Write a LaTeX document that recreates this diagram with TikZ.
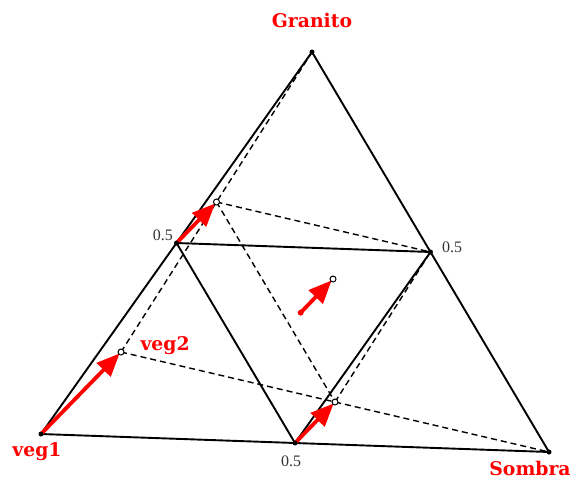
\documentclass[tikz,border=0pt]{standalone}
\usepackage{fontspec}
\setmainfont{Liberation Serif}
\newfontfamily\labelfont{DejaVu Serif}
\usetikzlibrary{positioning,arrows.meta,calc}

\begin{document}
\begin{tikzpicture}[x=1pt, y=-1pt, node distance=2pt,
  edge/.style={line width=1.9pt, line join=round},
  guide/.style={line width=1.4pt, dash pattern=on 6pt off 4pt},
  move/.style={red, line width=3.8pt, line cap=round, shorten >=2pt, -{Triangle[length=23pt,width=19pt]}},
  vtx/.style={circle, fill, inner sep=0pt, minimum size=5pt},
  hollow/.style={circle, draw, fill=white, inner sep=0pt, minimum size=6pt, line width=1pt},
  lbl/.style={red, font=\labelfont\bfseries\fontsize{18.8}{18.8}\selectfont},
  half/.style={font=\fontsize{16}{16}\selectfont, text=black!80}]
\useasboundingbox (0,0) rectangle (572,479);
% corners of the simplex and the moved vegetation corner
\coordinate (veg1) at (41,434);
\coordinate (gra) at (312,52);
\coordinate (som) at (549,452);
\coordinate (veg2) at (121,352);
\coordinate (mL) at ($(veg1)!.5!(gra)$);
\coordinate (mR) at ($(gra)!.5!(som)$);
\coordinate (mB) at ($(veg1)!.5!(som)$);
\coordinate (nL) at ($(veg2)!.5!(gra)$);
\coordinate (nB) at ($(veg2)!.5!(som)$);
\coordinate (c1) at ($1/3*(veg1)+1/3*(gra)+1/3*(som)$);
\coordinate (c2) at (333,279);

% dashed simplex
\draw[guide] (veg2) -- (gra);
\draw[guide] (veg2) -- (som);
\draw[guide] (nL) -- (mR);
\draw[guide] (nL) -- (nB);
\draw[guide] (nB) -- (mR);

% solid simplex
\draw[edge] (veg1) -- (gra) -- (som) -- cycle;
\draw[edge] (mL) -- (mR) -- (mB) -- cycle;

% moves
\draw[move] (veg1) -- (veg2);
\draw[move] (mL) -- (nL);
\draw[move] (mB) -- (nB);
\draw[move] (c1) -- (c2);
\fill[red] (c1) circle (3pt);

\foreach \p in {veg1,gra,som,mL,mR,mB}
  \node[vtx] (d\p) at (\p) {};
\foreach \p in {veg2,nL,nB,c2}
  \node[hollow] (o\p) at (\p) {};

\node[lbl, above=21pt of gra] (tGra) {Granito};
\node[lbl, below=5pt of veg1, xshift=-4pt] (tVeg1) {veg1};
\node[lbl, below=6pt of som, xshift=-19pt] (tSom) {Sombra};
\node[lbl, right=16pt of veg2, yshift=6pt] (tVeg2) {veg2};
\node[half, left=0pt of mL, yshift=8pt] (hL) {0.5};
\node[half, right=8pt of mR, yshift=5pt] (hR) {0.5};
\node[half, below=9pt of mB, xshift=-4pt] (hB) {0.5};
\end{tikzpicture}
\end{document}
